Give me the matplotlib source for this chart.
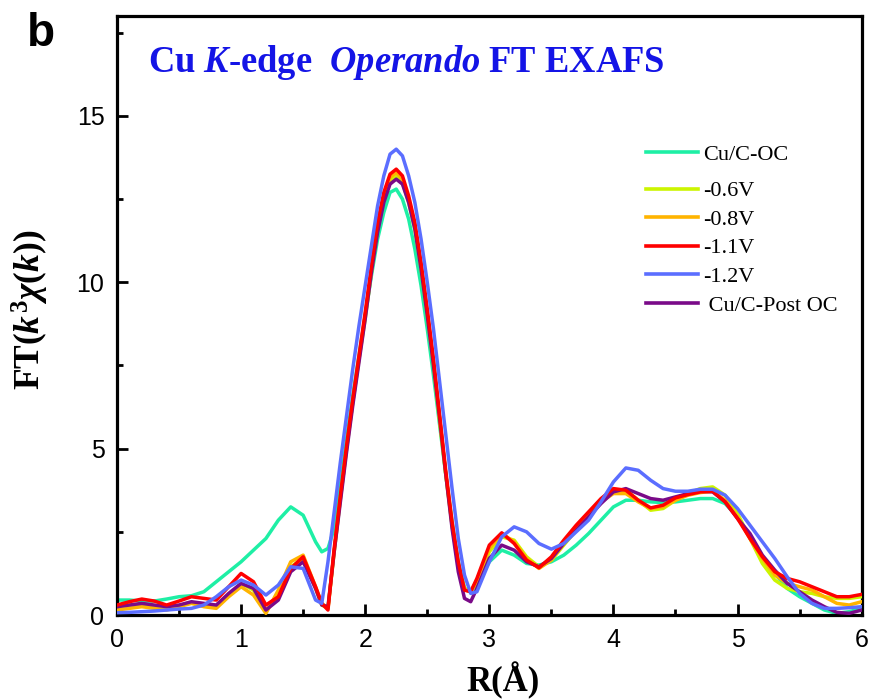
import matplotlib
matplotlib.use("Agg")
import matplotlib.pyplot as plt
from matplotlib.ticker import MultipleLocator

# R grid (Angstrom)
r = [0.0, 0.1, 0.2, 0.3, 0.4, 0.5, 0.6, 0.7, 0.8, 0.9, 1.0, 1.1, 1.2, 1.3, 1.4, 1.5, 1.6,
     1.65, 1.7, 1.75, 1.8, 1.85, 1.9, 1.95, 2.0, 2.05, 2.1, 2.15, 2.2, 2.25, 2.3, 2.35,
     2.4, 2.45, 2.5, 2.55, 2.6, 2.65, 2.7, 2.75, 2.8, 2.85, 2.9,
     3.0, 3.1, 3.2, 3.3, 3.4, 3.5, 3.6, 3.7, 3.8, 3.9, 4.0, 4.1, 4.2, 4.3, 4.4, 4.5,
     4.6, 4.7, 4.8, 4.9, 5.0, 5.1, 5.2, 5.3, 5.4, 5.5, 5.6, 5.7, 5.8, 5.9, 6.0]

cu_oc = [0.45, 0.45, 0.42, 0.42, 0.48, 0.55, 0.58, 0.7, 1.0, 1.3, 1.6, 1.95, 2.3, 2.85, 3.25, 3.0, 2.2,
         1.9, 2.0, 2.6, 3.9, 5.3, 6.6, 7.8, 9.0, 10.2, 11.3, 12.1, 12.7, 12.8, 12.5, 11.9,
         11.0, 9.9, 8.6, 7.2, 5.7, 4.2, 2.8, 1.6, 0.8, 0.7, 0.95,
         1.6, 1.95, 1.8, 1.55, 1.5, 1.6, 1.8, 2.1, 2.45, 2.85, 3.25, 3.45, 3.45, 3.4, 3.38, 3.4,
         3.45, 3.5, 3.5, 3.35, 2.95, 2.35, 1.75, 1.25, 0.8, 0.55, 0.35, 0.15, 0.05, 0.1, 0.2]

v06 = [0.25, 0.3, 0.32, 0.28, 0.22, 0.28, 0.38, 0.3, 0.25, 0.6, 0.95, 0.75, 0.1, 0.65, 1.45, 1.7, 0.8,
       0.3, 0.2, 1.9, 3.5, 5.0, 6.4, 7.7, 8.9, 10.3, 11.6, 12.5, 13.05, 13.2, 13.0, 12.4,
       11.6, 10.4, 9.0, 7.5, 5.8, 4.2, 2.7, 1.5, 0.8, 0.7, 1.0,
       1.9, 2.35, 2.25, 1.75, 1.45, 1.65, 2.1, 2.55, 3.0, 3.4, 3.7, 3.75, 3.45, 3.15, 3.2, 3.45,
       3.65, 3.8, 3.85, 3.6, 3.05, 2.3, 1.55, 1.05, 0.8, 0.7, 0.65, 0.55, 0.5, 0.5, 0.55]

v08 = [0.15, 0.2, 0.25, 0.2, 0.15, 0.25, 0.35, 0.25, 0.2, 0.55, 0.85, 0.6, 0.05, 0.75, 1.6, 1.8, 0.85,
       0.35, 0.2, 1.9, 3.5, 5.0, 6.4, 7.7, 9.0, 10.4, 11.7, 12.6, 13.15, 13.3, 13.1, 12.5,
       11.7, 10.5, 9.1, 7.6, 5.9, 4.2, 2.7, 1.5, 0.75, 0.7, 1.05,
       2.0, 2.45, 2.2, 1.7, 1.4, 1.65, 2.15, 2.6, 3.05, 3.4, 3.65, 3.65, 3.4, 3.2, 3.25, 3.45,
       3.6, 3.68, 3.72, 3.45, 2.95, 2.3, 1.7, 1.2, 0.95, 0.85, 0.75, 0.55, 0.35, 0.3, 0.4]

v11 = [0.3, 0.4, 0.48, 0.42, 0.3, 0.42, 0.55, 0.5, 0.45, 0.85, 1.25, 1.0, 0.3, 0.55, 1.4, 1.75, 0.85,
       0.35, 0.15, 2.0, 3.6, 5.1, 6.5, 7.8, 9.1, 10.5, 11.8, 12.7, 13.25, 13.4, 13.2, 12.6,
       11.8, 10.6, 9.2, 7.7, 6.0, 4.3, 2.8, 1.6, 0.75, 0.7, 1.1,
       2.1, 2.47, 2.15, 1.65, 1.42, 1.75, 2.25, 2.7, 3.1, 3.5, 3.8, 3.75, 3.45, 3.22, 3.3, 3.52,
       3.62, 3.7, 3.72, 3.4, 2.9, 2.3, 1.75, 1.3, 1.1, 1.0, 0.85, 0.7, 0.55, 0.55, 0.62]

v12 = [0.07, 0.08, 0.1, 0.12, 0.15, 0.18, 0.2, 0.3, 0.55, 0.85, 1.05, 0.9, 0.6, 0.9, 1.45, 1.4, 0.45,
       0.35, 1.6, 3.1, 4.6, 6.0, 7.4, 8.7, 9.9, 11.1, 12.3, 13.2, 13.85, 14.0, 13.8, 13.2,
       12.4, 11.3, 10.0, 8.6, 7.0, 5.4, 3.8, 2.3, 1.2, 0.65, 0.7,
       1.6, 2.35, 2.65, 2.5, 2.15, 1.98, 2.15, 2.5, 2.85, 3.4, 4.0, 4.42, 4.35, 4.05, 3.8, 3.72,
       3.72, 3.78, 3.78, 3.6, 3.2, 2.7, 2.2, 1.7, 1.15, 0.65, 0.35, 0.2, 0.2, 0.22, 0.25]

post_oc = [0.25, 0.3, 0.35, 0.3, 0.25, 0.3, 0.4, 0.35, 0.3, 0.65, 0.95, 0.8, 0.15, 0.45, 1.3, 1.6, 0.8,
           0.3, 0.25, 1.9, 3.4, 4.9, 6.3, 7.6, 8.9, 10.3, 11.5, 12.4, 12.95, 13.1, 12.95, 12.4,
           11.6, 10.4, 9.0, 7.5, 5.9, 4.2, 2.6, 1.3, 0.5, 0.4, 0.8,
           1.7, 2.1, 1.95, 1.6, 1.45, 1.7, 2.15, 2.55, 2.95, 3.35, 3.7, 3.8, 3.65, 3.5, 3.45, 3.55,
           3.65, 3.72, 3.7, 3.4, 2.9, 2.45, 1.8, 1.35, 0.95, 0.7, 0.45, 0.25, 0.08, 0.05, 0.15]

labels = ["Cu/C-OC", "-0.6V", "-0.8V", "-1.1V", "-1.2V", " Cu/C-Post OC"]
colors = ["#1EEFA5", "#CCF500", "#FFB400", "#FF0000", "#5B6EFF", "#7A0A88"]
series = [cu_oc, v06, v08, v11, v12, post_oc]
zorder = [2, 3, 4, 6, 7, 5]

plt.rcParams["mathtext.fontset"] = "custom"
plt.rcParams["mathtext.rm"] = "Liberation Serif:bold"
plt.rcParams["mathtext.it"] = "Liberation Serif:italic:bold"
plt.rcParams["mathtext.bf"] = "Liberation Serif:bold"

fig = plt.figure(figsize=(8.73, 7.0), dpi=100)
ax = fig.add_axes([0.134, 0.1214, 0.853, 0.8556])

handles = []
for y, c, lab, z in zip(series, colors, labels, zorder):
    h, = ax.plot(r, y, color=c, lw=2.5, label=lab, zorder=z)
    handles.append(h)

ax.set_xlim(0, 6)
ax.set_ylim(0, 18)
ax.xaxis.set_major_locator(MultipleLocator(1))
ax.xaxis.set_minor_locator(MultipleLocator(0.5))
ax.yaxis.set_major_locator(MultipleLocator(5))
ax.yaxis.set_minor_locator(MultipleLocator(2.5))
ax.tick_params(which="both", direction="in", width=2, top=False, right=False,
               labelsize=18, pad=9)
ax.tick_params(which="major", length=8)
ax.tick_params(which="minor", length=4.5)
for lbl in ax.get_xticklabels() + ax.get_yticklabels():
    lbl.set_family("Liberation Sans")
for s in ax.spines.values():
    s.set_linewidth(2.3)

ax.set_xlabel("R(Å)", fontsize=25, fontweight="bold", family="Liberation Serif")
ax.xaxis.set_label_coords(0.518, -0.078)
ax.set_ylabel(r"FT($\mathit{k}^3\chi(\mathit{k})$)", fontsize=25.5, fontweight="bold",
              family="Liberation Serif")
ax.yaxis.set_label_coords(-0.088, 0.51)

ax.text(0.042, 0.922, r"Cu $\mathit{K}$-edge  $\mathit{Operando}$ FT EXAFS",
        transform=ax.transAxes, color="#1414E6", fontsize=26.3, fontweight="bold",
        family="Liberation Serif", ha="left", va="center")

fig.text(0.031, 0.951, "b", fontsize=33, fontweight="bold", family="Liberation Sans",
         ha="left", va="center")

leg_kw = dict(loc="upper left", frameon=False,
              prop={"family": "Liberation Serif", "size": 16},
              handlelength=2.3, handletextpad=0.25, labelspacing=0.36,
              borderpad=0, borderaxespad=0)
leg1 = ax.legend(handles[:1], labels[:1], bbox_to_anchor=(0.711, 0.786), **leg_kw)
ax.add_artist(leg1)
leg2 = ax.legend(handles[1:], labels[1:], bbox_to_anchor=(0.711, 0.725), **leg_kw)
for leg in (leg1, leg2):
    for line in leg.get_lines():
        line.set_linewidth(2.6)

fig.savefig("out.png", dpi=100)
